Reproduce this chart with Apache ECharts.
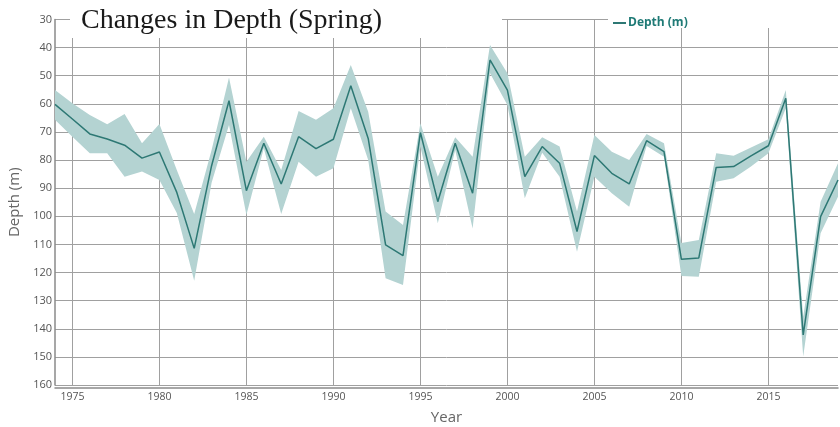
<!DOCTYPE html>
<html>
<head>
<meta charset="utf-8">
<script src="https://cdn.jsdelivr.net/npm/echarts@6/dist/echarts.min.js"></script>
<style>html,body{margin:0;padding:0;background:#fff;overflow:hidden}#c{width:840px;height:427px}</style>
</head>
<body>
<div id="c"></div>
<script>
const years = [1974,1975,1976,1977,1978,1979,1980,1981,1982,1983,1984,1985,1986,1987,1988,1989,1990,1991,1992,1993,1994,1995,1996,1997,1998,1999,2000,2001,2002,2003,2004,2005,2006,2007,2008,2009,2010,2011,2012,2013,2014,2015,2016,2017,2018,2019];
const depth = [60.2,65.4,70.7,72.5,74.7,79.3,77.1,91.5,111.4,82,58.9,90.9,74.0,88.5,71.7,75.9,72.6,53.6,72.3,110.2,114.0,70.2,94.8,74.0,91.8,44.4,55.1,85.9,75.2,81.1,105.4,78.4,84.7,88.5,73.1,77.0,115.3,114.8,82.6,82.3,78.5,74.9,58.0,142.2,100.1,87.1];
const bandLow = [55.1,59.8,64,67.3,63.6,74.0,67.2,83.5,99.2,76.4,50.6,80.6,71.7,83.5,62.5,65.7,61.6,46.2,62.8,98.3,103.1,66.9,85.9,71.9,78.8,39.1,49.1,78.8,71.9,75.2,98.3,71.1,77.0,80.0,70.7,74.0,109.5,108.4,77.6,78.5,75.5,72.6,55.1,135.7,94.8,81.1];
const bandHigh = [65.7,71.7,77.6,77.6,85.9,84.1,87.1,98.8,122.9,88.1,67.5,99.5,75.8,99.2,80.6,85.9,82.9,61.6,80.0,122.0,124.4,75.2,102.5,76.4,104.3,49.1,60.4,93.6,77.4,85.9,112.6,85.9,91.8,96.6,75.0,78.8,121.2,121.5,87.7,86.5,82.3,77.6,61.6,149.9,106.0,93.0];
const yMin = 30, yMax = 160, yStep = 10;
const labelYears = [1975,1980,1985,1990,1995,2000,2005,2010,2015];

const chart = echarts.init(document.getElementById('c'));
const bandSize = bandHigh.map((v, i) => +(v - bandLow[i]).toFixed(2));
const font = '"Open Sans", "Noto Sans", sans-serif';
const showYear = (idx, val) => labelYears.indexOf(+val) >= 0;

chart.setOption({
  animation: false,
  backgroundColor: '#fff',
  title: {
    text: 'Changes in Depth (Spring)',
    left: 76, top: 2, z: 20,
    textStyle: { fontFamily: '"Liberation Serif", "DejaVu Serif", serif', fontSize: 28, fontWeight: 'normal', color: '#1a1a1a' }
  },
  legend: {
    data: ['Depth (m)'],
    left: 608, top: 12, z: 20,
    icon: 'rect', itemWidth: 13, itemHeight: 2, itemGap: 4,
    textStyle: { fontFamily: font, fontSize: 12, fontWeight: 'bold', color: '#1f7a76', padding: [0,0,0,-3] }
  },
  graphic: [
    { type: 'rect', z: 10, shape: { x: 70, y: 0, width: 432, height: 38 }, style: { fill: '#fff' } },
    { type: 'rect', z: 10, shape: { x: 608, y: 0, width: 232, height: 28 }, style: { fill: '#fff' } }
  ],
  grid: { left: 55, right: 2, top: 19.5, bottom: 42, containLabel: false, outerBoundsMode: 'none' },
  xAxis: {
    type: 'category',
    data: years,
    boundaryGap: false,
    offset: 3,
    name: 'Year', nameLocation: 'middle', nameGap: 22,
    nameTextStyle: { fontFamily: font, fontSize: 15, color: '#666' },
    axisLine: { lineStyle: { color: '#8a8a8a', width: 1.5 } },
    axisTick: { show: false },
    axisLabel: { interval: showYear, fontFamily: font, fontSize: 10.5, color: '#555', margin: 4 },
    splitLine: { show: true, interval: showYear, lineStyle: { color: '#a0a0a0', width: 1 } }
  },
  yAxis: {
    type: 'value',
    inverse: true,
    min: yMin, max: yMax, interval: yStep,
    name: 'Depth (m)', nameLocation: 'middle', nameGap: 29,
    nameTextStyle: { fontFamily: font, fontSize: 15, color: '#666' },
    axisLine: { show: true, lineStyle: { color: '#8a8a8a', width: 1.5 } },
    axisTick: { show: false },
    axisLabel: { fontFamily: font, fontSize: 11, color: '#555', margin: 3 },
    splitLine: { show: true, lineStyle: { color: '#a0a0a0', width: 1 } }
  },
  series: [
    { name: 'low', type: 'line', data: bandLow, stack: 'band', symbol: 'none', lineStyle: { opacity: 0 }, silent: true, z: 1 },
    { name: 'band', type: 'line', data: bandSize, stack: 'band', symbol: 'none', lineStyle: { opacity: 0 }, areaStyle: { color: '#b4d3d2', opacity: 1 }, silent: true, z: 1 },
    { name: 'Depth (m)', type: 'line', data: depth, symbol: 'none', itemStyle: { color: '#2d7874' }, lineStyle: { color: '#2d7874', width: 1.5 }, z: 3 }
  ]
});
</script>
</body>
</html>
